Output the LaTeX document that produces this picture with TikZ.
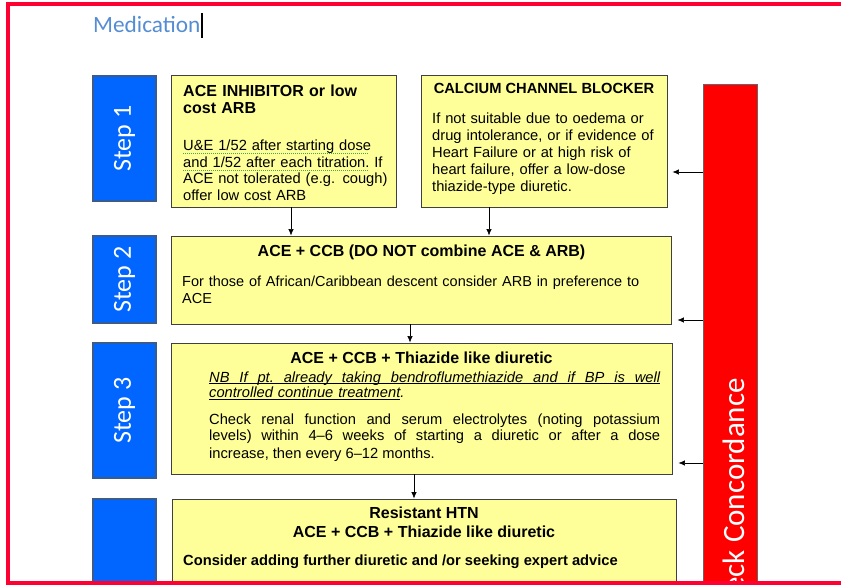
\documentclass[tikz,border=0pt]{standalone}
\usepackage{fontspec}
\setmainfont{Liberation Sans}
\newfontfamily\calibri{Carlito}
\usetikzlibrary{arrows.meta}
\definecolor{stepblue}{RGB}{0,102,255}
\definecolor{stepedge}{RGB}{58,92,140}
\definecolor{boxyellow}{RGB}{255,255,153}
\definecolor{framered}{RGB}{255,0,51}
\definecolor{barred}{RGB}{255,0,0}
\definecolor{titleblue}{RGB}{84,141,212}
\definecolor{squig}{RGB}{70,170,70}
\newcommand\myul[1]{\leavevmode\setbox0\hbox{#1}\rlap{\rule[-2.2pt]{\wd0}{0.8pt}}\box0}
\newcommand\ulbox[2]{\leavevmode\hbox to #1{\spaceskip=0pt\xspaceskip=0pt\frenchspacing\rlap{\rule[-2.2pt]{#1}{0.8pt}}#2}}
\newcommand\gsq[1]{\leavevmode\setbox0\hbox{#1}\rlap{\color{squig}\hbox to\wd0{\leaders\hbox{\rule[-3.2pt]{1pt}{1pt}\kern1pt}\hfill}}\box0}
\tikzset{
  stepbox/.style={draw=stepedge, line width=2pt, fill=stepblue, minimum width=63pt, inner sep=0pt},
  ybox/.style={draw=black!75, line width=0.9pt, fill=boxyellow, inner sep=0pt},
  steplabel/.style={rotate=90, text=white, font=\calibri\fontsize{26}{26}\selectfont, inner sep=0pt},
  arr/.style={-{Latex[length=6.5pt,width=5.5pt]}, line width=0.7pt},
  hdbig/.style={font=\bfseries\fontsize{16}{17}\selectfont, inner sep=0pt},
  hdsmall/.style={font=\bfseries\fontsize{14.7}{16.5}\selectfont, inner sep=0pt},
  bodytxt/.style={font=\fontsize{14.7}{16.7}\selectfont, inner sep=0pt},
  frame/.style={draw=framered, line width=4pt}
}
\begin{document}
\begin{tikzpicture}[x=1pt,y=-1pt]
\useasboundingbox (0,0) rectangle (841,585);
\clip (0,0) rectangle (841,585);
% title
\node[anchor=base west, inner sep=0pt, text=titleblue, font=\calibri\fontsize{23.3}{23.3}\selectfont] (title) at (93,33) {Medication};
\draw[line width=1.2pt] (202,13) -- (202,38);
% step boxes
\node[stepbox, minimum height=125pt] (s1) at (124.5,138.5) {};
\node[stepbox, minimum height=87pt] (s2) at (124.5,279.5) {};
\node[stepbox, minimum height=134pt] (s3) at (124.5,410.5) {};
\node[stepbox, minimum height=150pt] (s4) at (124.5,574) {};
\node[steplabel] (l1) at (s1.center) {Step 1};
\node[steplabel] (l2) at (s2.center) {Step 2};
\node[steplabel] (l3) at (s3.center) {Step 3};
% yellow boxes
\node[ybox, minimum width=225pt, minimum height=132pt] (box1) at (283.5,141) {};
\node[ybox, minimum width=246pt, minimum height=132pt] (ccb) at (544,141) {};
\node[ybox, minimum width=500pt, minimum height=88pt] (box2) at (421,280) {};
\node[ybox, minimum width=501pt, minimum height=131pt] (box3) at (421.5,408.5) {};
\node[ybox, minimum width=504pt, minimum height=151pt] (box4) at (424,574.5) {};
% red bar
\node[draw=black!60, line width=0.8pt, fill=barred, minimum width=54pt, minimum height=566pt, inner sep=0pt] (bar) at (730,367) {};
\node[rotate=90, anchor=base east, inner sep=0pt, text=white, font=\calibri\fontsize{31}{31}\selectfont] (bartxt) at (744,378) {Check Concordance};
% box 1 text
\node[hdbig, anchor=base west, text width=205pt, align=left] (t1h) at (183,97) {ACE INHIBITOR or low\\cost ARB};
\node[bodytxt, anchor=base west, text width=212pt, align=left, font=\fontsize{14.7}{16.5}\selectfont] (t1b) at (183,151)
  {\gsq{U\&E 1/52 after starting dose}\\\gsq{and 1/52 after each titration.}\ If\\ACE not tolerated (e.g. cough)\\offer low cost ARB};
% ccb text
\node[hdsmall, anchor=base] (tch) at (544,94) {CALCIUM CHANNEL BLOCKER};
\node[bodytxt, anchor=base west, text width=232pt, align=left, font=\fontsize{14.7}{16.8}\selectfont] (tcb) at (432,124)
  {If not suitable due to oedema or\\drug intolerance, or if evidence of\\Heart Failure or at high risk of\\heart failure, offer a low-dose\\thiazide-type diuretic.};
% step 2 text
\node[hdbig, anchor=base] (t2h) at (421.5,257) {ACE + CCB (DO NOT combine ACE \& ARB)};
\node[bodytxt, anchor=base west, text width=480pt, align=left, font=\fontsize{14.5}{17}\selectfont] (t2b) at (182,287)
  {For those of African/Caribbean descent consider ARB in preference to\\ACE};
% step 3 text
\node[hdbig, anchor=base] (t3h) at (421.5,363) {ACE + CCB + Thiazide like diuretic};
\node[bodytxt, anchor=base west, text width=451pt, align=left, font=\itshape\fontsize{14.7}{15.5}\selectfont] (t3n) at (209,382)
  {\ulbox{451pt}{NB If pt. already taking bendroflumethiazide and if BP is well}\\\myul{controlled continue treatment}.};
\node[bodytxt, anchor=base west, text width=451pt, align=justify, font=\fontsize{14.7}{17}\selectfont] (t3b) at (209,424)
  {Check renal function and serum electrolytes (noting potassium\linebreak levels) within 4–6 weeks of starting a diuretic or after a dose\linebreak increase, then every 6–12 months.};
% step 4 text
\node[hdbig, anchor=base] (t4a) at (424,518) {Resistant HTN};
\node[hdbig, anchor=base] (t4b) at (424,537) {ACE + CCB + Thiazide like diuretic};
\node[hdsmall, anchor=base west] (t4c) at (183,565) {Consider adding further diuretic and /or seeking expert advice};
% vertical arrows
\path ([xshift=7.5pt]box1.south) coordinate (a1);
\draw[arr] (a1) -- (a1 |- box2.north);
\path ([xshift=-55pt]ccb.south) coordinate (a2);
\draw[arr] (a2) -- (a2 |- box2.north);
\path ([xshift=-11pt]box2.south) coordinate (a3);
\draw[arr] (a3) -- (a3 |- box3.north);
\path ([xshift=-7.5pt]box3.south) coordinate (a4);
\draw[arr] (a4) -- (a4 |- box4.north);
% side arrows from bar
\draw[arr, shorten >=5pt] (bar.west |- 0,172) -- (ccb.east |- 0,172);
\draw[arr, shorten >=6pt] (bar.west |- 0,320) -- (box2.east |- 0,320);
\draw[arr, shorten >=6pt] (bar.west |- 0,463) -- (box3.east |- 0,463);
% frame
\draw[frame, line join=miter] (900,4.5) -- (8,4.5) -- (8,582.5) -- (900,582.5);
\end{tikzpicture}
\end{document}
